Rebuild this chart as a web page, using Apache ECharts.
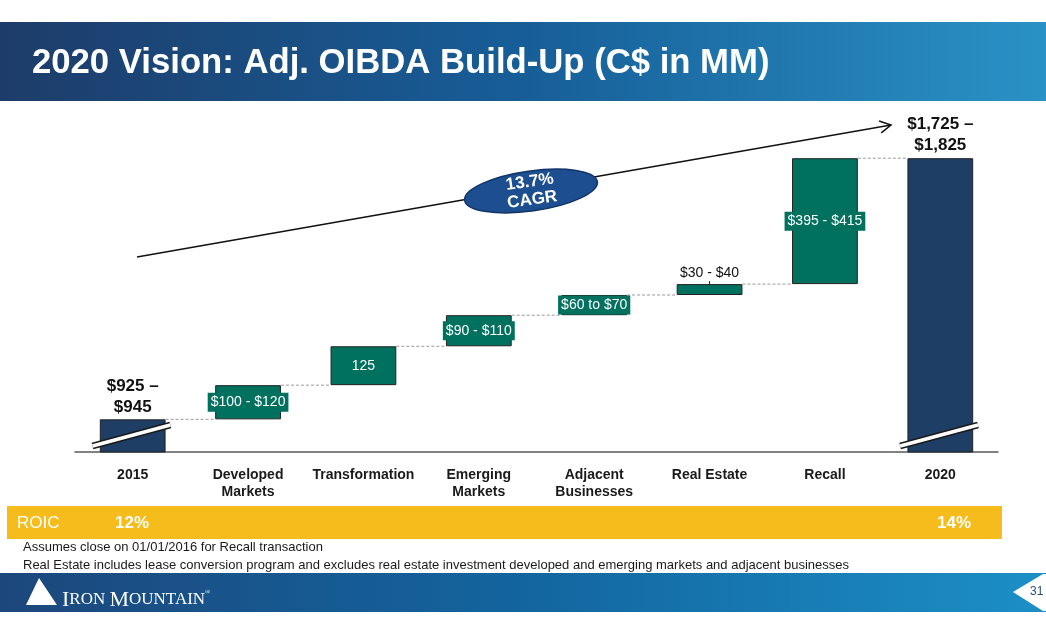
<!DOCTYPE html>
<html><head><meta charset="utf-8">
<script src="https://cdn.jsdelivr.net/npm/echarts@6/dist/echarts.min.js"></script>
<style>html,body{margin:0;padding:0;background:#fff}#chart{width:1046px;height:635px}</style>
</head><body><div id="chart"></div>
<script>
// ---- data ----
const categories = ['2015', 'Developed\nMarkets', 'Transformation', 'Emerging\nMarkets', 'Adjacent\nBusinesses', 'Real Estate', 'Recall', '2020'];
const startTotal = 935;            // midpoint of $925 – $945
const increments = [110, 125, 100, 65, 35, 405];
const endTotal = 1775;             // midpoint of $1,725 – $1,825
const barLabels = ['$925 –\n$945', '$100 - $120', '125', '$90 - $110', '$60 to $70', '$30 - $40', '$395 - $415', '$1,725 –\n$1,825'];
const roicLabels = ['12%', '14%'];
const cagrLabels = ['13.7%', 'CAGR'];
const footnotes = [
  'Assumes close on 01/01/2016 for Recall transaction',
  'Real Estate includes lease conversion program and excludes real estate investment developed and emerging markets and adjacent businesses'
];

// ---- waterfall construction ----
const baseVals = ['-'];
const visVals = [startTotal];
const levels = [startTotal];
let run = startTotal;
increments.forEach(v => { baseVals.push(run); visVals.push(v); run += v; levels.push(run); });
baseVals.push('-'); visVals.push(endTotal);

const NAVY = '#1f3e66', TEAL = '#00705f';
const FF = '"Liberation Sans", Arial, sans-serif';
const BAR_W = 0.57;
const RE_INDEX = 5;

function labelFor(i) {
  const last = categories.length - 1;
  if (i === 0 || i === last) {
    return { show: true, position: 'top', distance: 2, formatter: () => barLabels[i],
      fontFamily: FF, fontSize: 17, fontWeight: 'bold', lineHeight: 21, color: '#111' };
  }
  if (i === RE_INDEX) {
    return { show: true, position: 'top', distance: 4, formatter: () => barLabels[i],
      fontFamily: FF, fontSize: 14, color: '#111' };
  }
  return { show: true, position: 'inside', formatter: () => barLabels[i],
    fontFamily: FF, fontSize: 14, color: '#fff', backgroundColor: TEAL, padding: [3, 3, 2, 3] };
}

const chart = echarts.init(document.getElementById('chart'), null, { renderer: 'canvas' });

// arrow geometry
const aS = [137, 257], aE = [891, 125];
const dx = aE[0] - aS[0], dy = aE[1] - aS[1], dl = Math.hypot(dx, dy);
const ux = dx / dl, uy = dy / dl, px = -uy, py = ux;
const hb = [aE[0] - 11 * ux, aE[1] - 11 * uy];
const head1 = [hb[0] + 6 * px, hb[1] + 6 * py], head2 = [hb[0] - 6 * px, hb[1] - 6 * py];

const txt = (x, y, text, font, fill, align, extra) => Object.assign({
  type: 'text', x: x, y: y,
  style: { text: text, font: font, fill: fill, textAlign: align || 'left', align: align || 'left', textVerticalAlign: 'middle', verticalAlign: 'middle' }
}, extra || {});

const option = {
  animation: false,
  grid: { left: 75, right: 48, top: 110, bottom: 183 },
  xAxis: {
    type: 'category', data: categories,
    axisTick: { show: false },
    axisLine: { lineStyle: { color: '#5a5a5a', width: 1.5 } },
    axisLabel: { interval: 0, fontFamily: FF, fontSize: 14, fontWeight: 'bold', color: '#1a1a1a', lineHeight: 17, margin: 15 }
  },
  yAxis: { type: 'value', min: 830, max: 1930, show: false, splitLine: { show: false } },
  series: [
    { type: 'bar', stack: 'w', barWidth: (BAR_W * 100) + '%', silent: true, data: baseVals,
      itemStyle: { color: 'rgba(0,0,0,0)', borderWidth: 0 } },
    { type: 'bar', stack: 'w', barWidth: (BAR_W * 100) + '%',
      data: visVals.map((v, i) => ({ value: v,
        itemStyle: { color: (i === 0 || i === categories.length - 1) ? NAVY : TEAL },
        label: labelFor(i) })),
      itemStyle: { borderColor: '#222', borderWidth: 1 }, z: 3 },
    { type: 'custom', encode: { x: 0, y: 1 }, z: 2,
      data: levels.map((l, i) => [i, l]),
      renderItem: (params, api) => {
        const p = api.coord([api.value(0), api.value(1)]);
        const w = api.size([1, 0])[0];
        const h = w * BAR_W / 2;
        const children = [{ type: 'line', shape: { x1: p[0] + h, y1: p[1], x2: p[0] + w - h, y2: p[1] },
          style: { stroke: '#9a9a9a', lineWidth: 1, lineDash: [3, 2] } }];
        if (api.value(0) === RE_INDEX) {
          children.push({ type: 'line', shape: { x1: p[0], y1: p[1] - 3, x2: p[0], y2: p[1] + 6 },
            style: { stroke: '#222', lineWidth: 1 } });
        }
        return { type: 'group', children: children };
      } },
    { type: 'custom', encode: { x: 0, y: 1 }, z: 5,
      data: [[0, 884], [categories.length - 1, 884]],
      renderItem: (params, api) => {
        const p = api.coord([api.value(0), api.value(1)]);
        const h = api.size([1, 0])[0] * BAR_W / 2;
        const shape = { x1: p[0] - h - 7.3, y1: p[1] + 10.8, x2: p[0] + h + 4.8, y2: p[1] - 10.2 };
        return { type: 'group', children: [
          { type: 'line', shape: shape, style: { stroke: '#1a1a1a', lineWidth: 6.5 } },
          { type: 'line', shape: shape, style: { stroke: '#fff', lineWidth: 3.5 } }
        ] };
      } }
  ],
  graphic: [
    // header banner
    { type: 'rect', shape: { x: 0, y: 22, width: 1046, height: 79 }, z: 0,
      style: { fill: new echarts.graphic.LinearGradient(0, 0, 1, 0, [
        { offset: 0, color: '#1d3c69' }, { offset: 0.5, color: '#175e98' }, { offset: 1, color: '#2a92c6' }]) } },
    txt(32, 63, '2020 Vision: Adj. OIBDA Build-Up (C$ in MM)', 'bold 34.7px ' + FF, '#ffffff'),
    // trend arrow
    { type: 'polyline', shape: { points: [aS, aE] }, style: { stroke: '#111', lineWidth: 1.5, fill: null } },
    { type: 'polyline', shape: { points: [head1, aE, head2] }, style: { stroke: '#111', lineWidth: 1.5, fill: null } },
    { type: 'group', x: 531, y: 191, rotation: 8 * Math.PI / 180, children: [
      { type: 'ellipse', shape: { cx: 0, cy: 0, rx: 67, ry: 20 }, style: { fill: '#1d4e8f', stroke: '#12356a', lineWidth: 1.5 } },
      txt(0, -9, cagrLabels[0], 'bold 17px ' + FF, '#fff', 'center'),
      txt(0, 9, cagrLabels[1], 'bold 17px ' + FF, '#fff', 'center')
    ] },
    // ROIC band
    { type: 'rect', shape: { x: 7, y: 506, width: 995, height: 33 }, style: { fill: '#f5bc1b' } },
    txt(17, 523, 'ROIC', '17px ' + FF, '#fff'),
    txt(115, 523, roicLabels[0], 'bold 17px ' + FF, '#fff'),
    txt(937, 523, roicLabels[1], 'bold 17px ' + FF, '#fff'),
    // footnotes
    txt(23, 547, footnotes[0], '13px ' + FF, '#1a1a1a'),
    txt(23, 565, footnotes[1], '13px ' + FF, '#1a1a1a'),
    // footer band
    { type: 'rect', shape: { x: 0, y: 573, width: 1046, height: 39 },
      style: { fill: new echarts.graphic.LinearGradient(0, 0, 1, 0, [
        { offset: 0, color: '#1c477c' }, { offset: 0.5, color: '#13659f' }, { offset: 1, color: '#1c8fc7' }]) } },
    { type: 'polygon', shape: { points: [[26, 605], [39, 578], [57, 605]] }, style: { fill: '#fff' } },
    { type: 'text', x: 62, y: 600, style: {
      text: '{b|I}{s|RON }{b|M}{s|OUNTAIN}{r|®}', fill: '#fff', textVerticalAlign: 'middle', verticalAlign: 'middle',
      rich: { b: { font: '22px "Liberation Serif", serif', fill: '#fff' }, s: { font: '17px "Liberation Serif", serif', fill: '#fff' },
              r: { font: '7px "Liberation Serif", serif', fill: '#fff', verticalAlign: 'top' } } } },
    { type: 'polygon', shape: { points: [[1013, 592], [1043, 574], [1046, 574], [1046, 611], [1043, 611]] }, style: { fill: '#fff' } },
    txt(1030, 592, '31', '12px ' + FF, '#2b4c7e')
  ]
};
chart.setOption(option);
</script>
</body></html>
